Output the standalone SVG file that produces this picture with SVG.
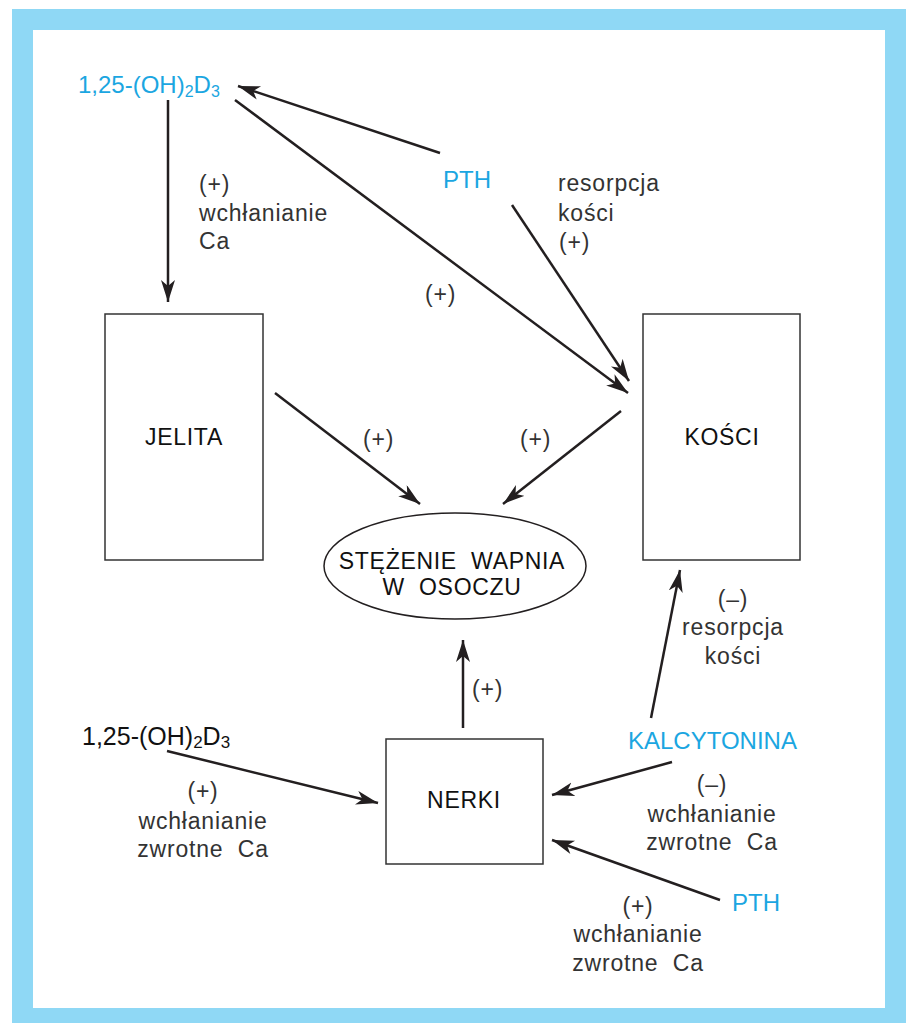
<svg xmlns="http://www.w3.org/2000/svg" width="909" height="1023" viewBox="0 0 909 1023">
<defs>
<style>
text{white-space:pre}
.t{font-family:"Liberation Sans",Arial,sans-serif;font-size:23px;fill:#333;letter-spacing:0.8px}
.c{text-anchor:middle}
.b{font-family:"Liberation Sans",Arial,sans-serif;font-size:24px;fill:#1ba6e1}
.k{font-family:"Liberation Sans",Arial,sans-serif;font-size:23px;fill:#111;letter-spacing:0.7px}
.box{fill:#fff;stroke:#333;stroke-width:1.5}
.ln{stroke:#231f20;stroke-width:2.5;fill:none;marker-end:url(#ah)}
</style>
<marker id="ah" markerUnits="userSpaceOnUse" markerWidth="24" markerHeight="16" refX="22" refY="7" orient="auto">
<path d="M0,0 L22,7 L0,14 L6,7 Z" fill="#231f20"/>
</marker>
</defs>
<rect x="12" y="9" width="894" height="1014" fill="#8fd8f5"/>
<rect x="33" y="30" width="852" height="978" fill="#fff"/>

<g id="connectors">
<line class="ln" x1="168" y1="100" x2="168" y2="302"/>
<line class="ln" x1="440" y1="153" x2="238" y2="86"/>
<line class="ln" x1="235" y1="100" x2="628" y2="393"/>
<line class="ln" x1="512" y1="205" x2="629" y2="381"/>
<line class="ln" x1="275" y1="393" x2="420" y2="504"/>
<line class="ln" x1="621" y1="411" x2="503" y2="504"/>
<line class="ln" x1="463" y1="728" x2="463" y2="640"/>
<line class="ln" x1="167" y1="751" x2="378" y2="803"/>
<line class="ln" x1="651" y1="718" x2="680" y2="570"/>
<line class="ln" x1="672" y1="762" x2="552" y2="795"/>
<line class="ln" x1="720" y1="900" x2="552" y2="840"/>
</g>

<g id="labels">
<text class="t" x="199" y="192">(+)</text>
<text class="t" x="199" y="221">wchłanianie</text>
<text class="t" x="199" y="249">Ca</text>
<text class="t" x="558" y="191">resorpcja</text>
<text class="t" x="558" y="221">kości</text>
<text class="t" x="559" y="250">(+)</text>
<text class="t" x="425" y="302">(+)</text>
<text class="t" x="363" y="447">(+)</text>
<text class="t" x="520" y="447">(+)</text>
<text class="t c" x="733" y="607">(–)</text>
<text class="t c" x="733" y="635">resorpcja</text>
<text class="t c" x="733" y="664">kości</text>
<text class="t" x="472" y="697">(+)</text>
<text class="t c" x="203" y="799">(+)</text>
<text class="t c" x="203" y="829">wchłanianie</text>
<text class="t c" x="203" y="857">zwrotne  Ca</text>
<text class="t c" x="712" y="792">(–)</text>
<text class="t c" x="712" y="822">wchłanianie</text>
<text class="t c" x="712" y="850">zwrotne  Ca</text>
<text class="t c" x="638" y="914">(+)</text>
<text class="t c" x="638" y="942">wchłanianie</text>
<text class="t c" x="638" y="971">zwrotne  Ca</text>
</g>

<g id="vitd-top">
<text class="b" x="78" y="93">1,25-(OH)<tspan font-size="16" dy="4">2</tspan><tspan dy="-4">D</tspan><tspan font-size="16" dy="4">3</tspan></text>
</g>
<g id="pth-top">
<text class="b" x="443" y="188">PTH</text>
</g>
<g id="jelita">
<rect class="box" x="105" y="314" width="158" height="246"/>
<text class="k c" x="184" y="445">JELITA</text>
</g>
<g id="kosci">
<rect class="box" x="643" y="314" width="157" height="246"/>
<text class="k c" x="722" y="445">KOŚCI</text>
</g>
<g id="stezenie">
<ellipse cx="455" cy="566" rx="131" ry="53" fill="#fff" stroke="#231f20" stroke-width="1.5"/>
<text class="k c" x="452" y="569">STĘŻENIE  WAPNIA</text>
<text class="k c" x="452" y="595">W  OSOCZU</text>
</g>
<g id="nerki">
<rect class="box" x="386" y="739" width="157" height="125"/>
<text class="k c" x="464" y="808">NERKI</text>
</g>
<g id="vitd-bottom">
<text x="82" y="745" font-family="Liberation Sans, Arial, sans-serif" font-size="25" fill="#111">1,25-(OH)<tspan font-size="17" dy="3">2</tspan><tspan dy="-3">D</tspan><tspan font-size="17" dy="3">3</tspan></text>
</g>
<g id="kalcytonina">
<text class="b" x="628" y="749">KALCYTONINA</text>
</g>
<g id="pth-bottom">
<text class="b" x="732" y="911">PTH</text>
</g>
</svg>
